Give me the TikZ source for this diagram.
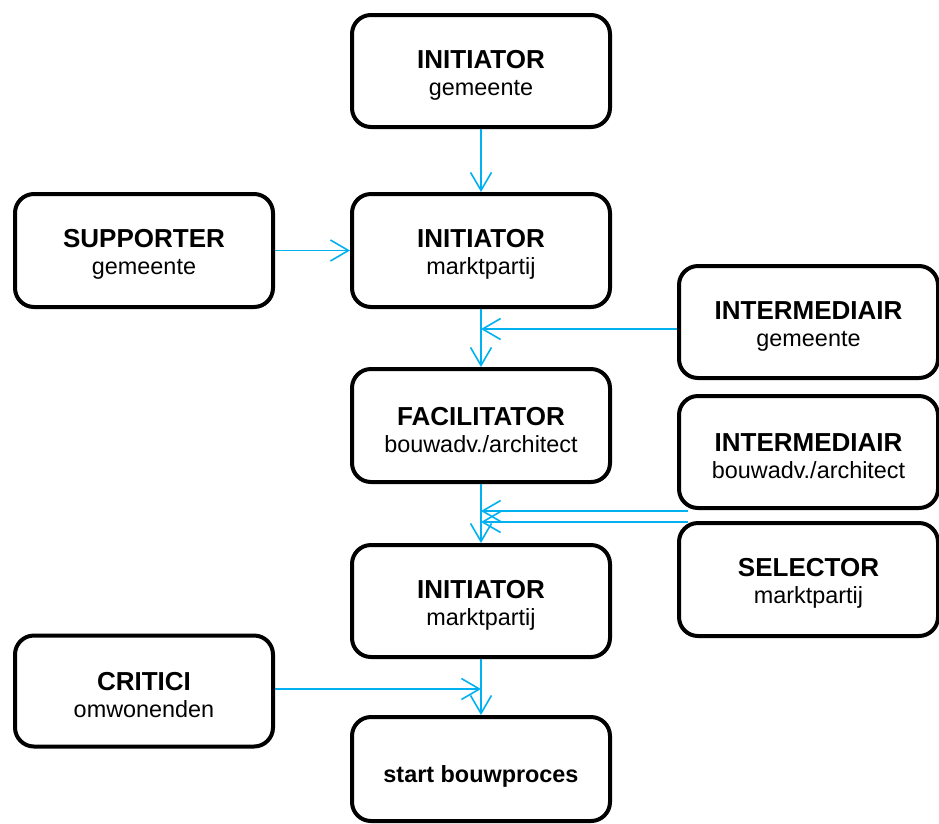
\documentclass[tikz,border=0pt]{standalone}
\usepackage{fontspec}
\setmainfont{Liberation Sans}
\usetikzlibrary{arrows.meta,calc}
\definecolor{linkblue}{RGB}{0,176,240}
\tikzset{
  box/.style={draw=black, line width=4pt, rounded corners=19pt, fill=white,
    minimum width=258pt, minimum height=112pt, align=center, inner sep=2pt,
    font=\fontsize{23.4}{27}\selectfont},
  link/.style={draw=linkblue, line width=1.6pt,
    -{Straight Barb[length=18pt, width=21pt, line width=1.6pt]}},
}
\newcommand{\hd}[1]{{\fontsize{26}{27}\selectfont\bfseries\rule{0pt}{26.6pt}#1}}
\begin{document}
\begin{tikzpicture}[x=1pt, y=-1pt]
\useasboundingbox (0,0) rectangle (939,823);
% centre column
\node[box] (c1) at (481,71) {\hd{INITIATOR}\\gemeente};
\node[box, minimum height=113pt] (c2) at (481,250.5) {\hd{INITIATOR}\\marktpartij};
\node[box, minimum height=113pt] (c3) at (481,425.5) {\hd{FACILITATOR}\\bouwadv./architect};
\node[box] (c4) at (481,601) {\hd{INITIATOR}\\marktpartij};
\node[box, minimum height=104pt] (c5) at (481,769) {\bfseries\rule{0pt}{31pt}start bouwproces};
% left column
\node[box, minimum height=113pt] (s) at (144,250.5) {\hd{SUPPORTER}\\gemeente};
\node[box, minimum height=111pt] (cr) at (144,691) {\hd{CRITICI}\\omwonenden};
% right column
\node[box, minimum width=259pt] (r1) at (808.5,322) {\hd{INTERMEDIAIR}\\gemeente};
\node[box, minimum width=259pt] (r2) at (808.5,452) {\hd{INTERMEDIAIR}\\bouwadv./architect};
\node[box, minimum width=259pt, minimum height=113pt] (r3) at (808.5,579.5) {\hd{SELECTOR}\\marktpartij};
% junctions on the main line
\coordinate (j1) at (481,329);
\coordinate (j2) at ($(c3.south |- r2.south)+(0,1)$);
\coordinate (j3) at ($(c3.south |- r3.north)+(0,1)$);
\coordinate (j4) at (481,689);
% connectors
\draw[link] (c1) -- (c2);
\draw[link] (s.east) -- (c2.west);
\draw[link] (c2) -- (c3);
\draw[link] (r1.west |- j1) -- (j1);
\draw[link] (c3) -- (c4);
\draw[link] ([xshift=11pt]r2.south west |- j2) -- (j2);
\draw[link] ([xshift=11pt]r3.north west |- j3) -- (j3);
\draw[link] (cr.east |- j4) -- (j4);
\draw[link] (c4) -- (c5);
\end{tikzpicture}
\end{document}
